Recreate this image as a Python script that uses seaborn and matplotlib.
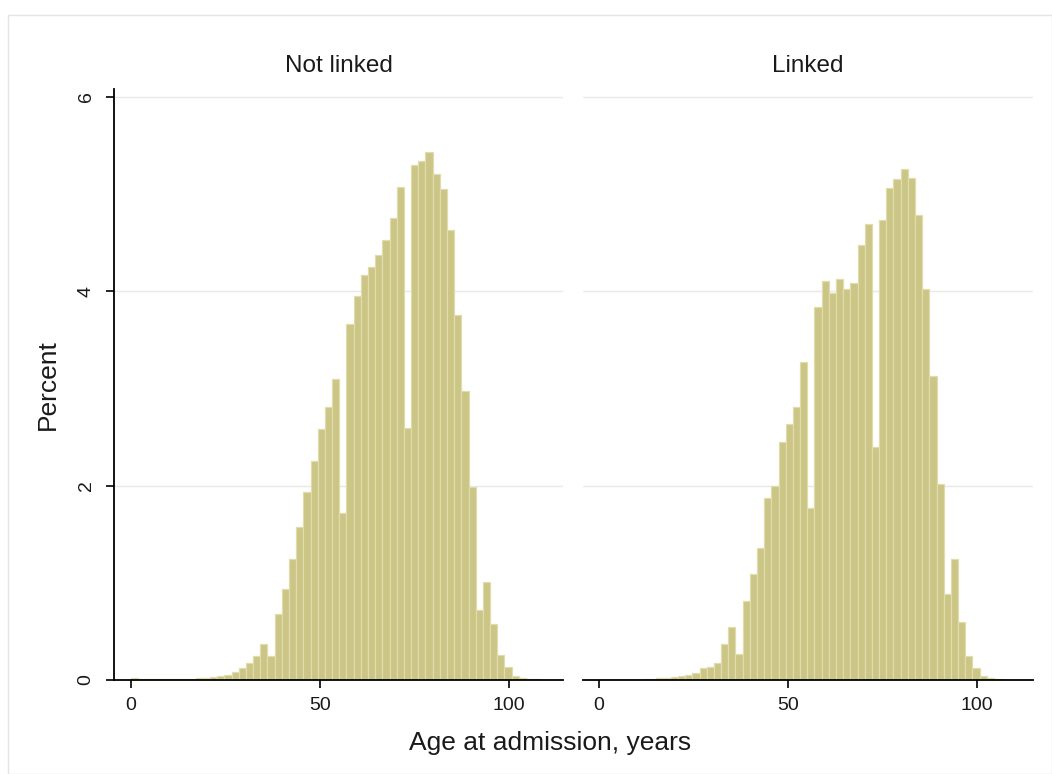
import numpy as np
import pandas as pd
import matplotlib
matplotlib.use("Agg")
import matplotlib.pyplot as plt
from matplotlib.patches import Rectangle
import seaborn as sns

# Percent of admissions per 1.9-year age bin, starting at age 0
BIN_WIDTH = 1.9
N_BINS = 57

not_linked_pct = [
    0.02, 0.01, 0.01, 0.01, 0.01, 0.01, 0.01, 0.01, 0.01, 0.02,
    0.02, 0.03, 0.04, 0.05, 0.08, 0.12, 0.18, 0.25, 0.37, 0.25,
    0.68, 0.94, 1.24, 1.57, 1.93, 2.25, 2.58, 2.81, 3.10, 1.72,
    3.66, 3.95, 4.17, 4.25, 4.37, 4.53, 4.75, 5.07, 2.59, 5.30,
    5.34, 5.43, 5.21, 5.05, 4.63, 3.75, 2.97, 1.99, 0.72, 1.01,
    0.58, 0.26, 0.13, 0.04, 0.02, 0.01, 0.01,
]

linked_pct = [
    0.00, 0.00, 0.00, 0.00, 0.00, 0.00, 0.01, 0.01, 0.02, 0.02,
    0.03, 0.04, 0.05, 0.07, 0.12, 0.13, 0.18, 0.37, 0.55, 0.27,
    0.81, 1.09, 1.36, 1.87, 2.00, 2.45, 2.63, 2.81, 3.27, 1.77,
    3.84, 4.10, 3.98, 4.13, 4.02, 4.08, 4.47, 4.69, 2.40, 4.73,
    5.06, 5.15, 5.26, 5.16, 4.78, 4.02, 3.13, 2.02, 0.88, 1.24,
    0.60, 0.25, 0.12, 0.04, 0.02, 0.01, 0.00,
]

panel_titles = ["Not linked", "Linked"]
x_ticks = [0, 50, 100]
y_ticks = [0, 2, 4, 6]

edges = np.arange(N_BINS + 1) * BIN_WIDTH
centers = (edges[:-1] + edges[1:]) / 2

sns.set_theme(style="white")
plt.rcParams["font.family"] = ["Liberation Sans", "DejaVu Sans"]

W, H = 1052, 774
fig = plt.figure(figsize=(W / 100, H / 100), dpi=100)
fig.patch.set_facecolor("white")

# faint frame around the graph region
fig.add_artist(Rectangle((8 / W, 0), 1 - 8 / W, 1 - 15 / H, transform=fig.transFigure,
                         fill=False, edgecolor="#e4e4e4", linewidth=1.0))

bar_color = "#cbc586"
edge_color = "#e0dcab"

y0_px, ytop_px = 680, 89
panels = [
    dict(left=114, right=563, zero=131, data=not_linked_pct, title=panel_titles[0]),
    dict(left=583, right=1033, zero=599, data=linked_pct, title=panel_titles[1]),
]
px_per_year = 3.78

for i, p in enumerate(panels):
    ax = fig.add_axes([p["left"] / W, 1 - y0_px / H,
                       (p["right"] - p["left"]) / W, (y0_px - ytop_px) / H])
    df = pd.DataFrame({"age": centers, "pct": p["data"]})
    sns.histplot(data=df, x="age", weights="pct", bins=edges.tolist(), ax=ax,
                 color=bar_color, edgecolor=edge_color, linewidth=0.9, alpha=1.0)
    xmin = -(p["zero"] - p["left"]) / px_per_year
    xmax = xmin + (p["right"] - p["left"]) / px_per_year
    ax.set_xlim(xmin, xmax)
    ax.set_ylim(0, 6.08)
    ax.set_xlabel("")
    ax.set_ylabel("")
    ax.set_yticks(y_ticks)
    ax.set_xticks(x_ticks)
    ax.set_axisbelow(True)
    ax.grid(axis="y", color="#e9e9e9", linewidth=1.0)
    ax.grid(axis="x", visible=False)
    for s in ["top", "right"]:
        ax.spines[s].set_visible(False)
    ax.spines["bottom"].set_color("black")
    ax.spines["bottom"].set_linewidth(1.3)
    ax.tick_params(axis="x", direction="out", length=6, width=1.2, color="black",
                   pad=6, labelsize=14, labelcolor="#1a1a1a", bottom=True)
    if i == 0:
        ax.spines["left"].set_color("black")
        ax.spines["left"].set_linewidth(1.3)
        ax.tick_params(axis="y", direction="out", length=6, width=1.2, color="black",
                       pad=8, labelsize=14, labelcolor="#1a1a1a", left=True)
        for lab in ax.get_yticklabels():
            lab.set_rotation(90)
            lab.set_va("center")
    else:
        ax.spines["left"].set_visible(False)
        ax.tick_params(axis="y", left=False, labelleft=False)
    ax.set_facecolor("white")
    fig.text((p["left"] + p["right"]) / 2 / W, 1 - 66 / H, p["title"],
             ha="center", va="center", fontsize=17.5, color="#1a1a1a")

fig.text(550 / W, 1 - 743 / H, "Age at admission, years", ha="center", va="center",
         fontsize=19, color="#1a1a1a")
fig.text(48 / W, 1 - 385 / H, "Percent", ha="center", va="center", rotation=90,
         fontsize=19, color="#1a1a1a")

fig.savefig("out.png", dpi=100)
